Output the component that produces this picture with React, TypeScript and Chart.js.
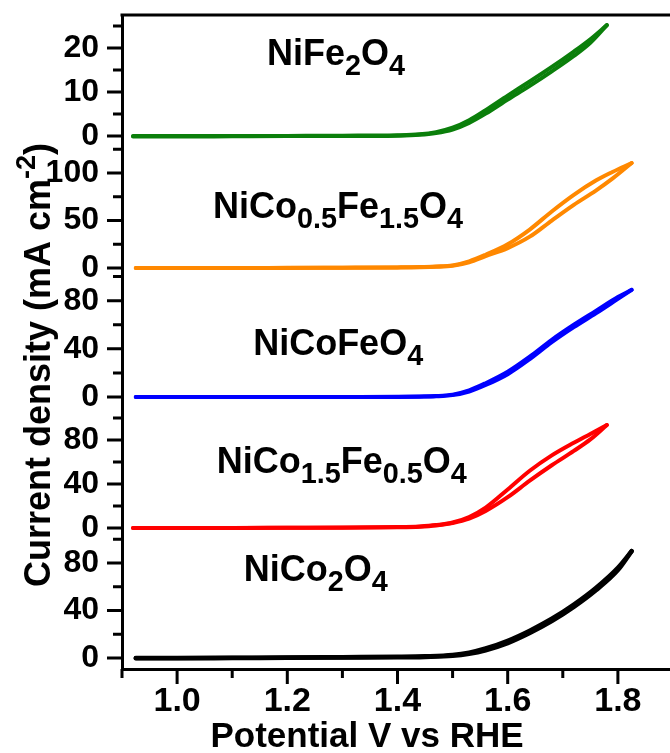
import React, { useEffect, useRef } from 'react';
import { Chart, registerables } from 'chart.js';

Chart.register(...registerables);

// ---------- data ----------
const sampleNames = ['NiFe_{2}O_{4}', 'NiCo_{0.5}Fe_{1.5}O_{4}', 'NiCoFeO_{4}', 'NiCo_{1.5}Fe_{0.5}O_{4}', 'NiCo_{2}O_{4}'];
const sampleColors = ['#0b7f0b', '#ff8800', '#0000ff', '#ff0000', '#000000'];
const sampleLineWidths = [4, 4, 4, 4, 4.5];

// NiFe2O4
const potNiFe2O4 = [0.92, 1.0, 1.1, 1.2, 1.3, 1.4, 1.44, 1.47, 1.5, 1.53, 1.56, 1.6, 1.64, 1.68, 1.72, 1.75, 1.78];
const fwdNiFe2O4 = [0, 0, 0, 0.05, 0.1, 0.2, 0.4, 0.9, 1.9, 3.6, 5.9, 9.2, 12.4, 15.7, 19.2, 22.0, 25.2];
const revNiFe2O4 = [-0.1, -0.1, -0.05, 0, 0, 0.1, 0.3, 0.7, 1.5, 3.0, 5.1, 8.3, 11.4, 14.7, 18.2, 21.2, 25.2];

// NiCo0.5Fe1.5O4
const potNiCo05 = [0.925, 1.0, 1.1, 1.2, 1.3, 1.4, 1.44, 1.47, 1.5, 1.53, 1.56, 1.6, 1.64, 1.68, 1.72, 1.76, 1.79, 1.825];
const fwdNiCo05 = [0, 0, 0, 0.2, 0.4, 0.7, 1.0, 1.6, 2.8, 7.0, 14.0, 25.0, 40.5, 59.5, 77.0, 92.0, 101.0, 110.5];
const revNiCo05 = [0, 0, 0, 0.1, 0.3, 0.5, 0.8, 1.3, 2.4, 6.0, 12.5, 21.0, 33.0, 50.0, 66.5, 81.5, 94.0, 110.5];

// NiCoFeO4
const potNiCoFe = [0.925, 1.0, 1.1, 1.2, 1.3, 1.4, 1.44, 1.47, 1.5, 1.53, 1.56, 1.6, 1.64, 1.68, 1.72, 1.76, 1.8, 1.825];
const fwdNiCoFe = [0, 0, 0, 0, 0.1, 0.2, 0.4, 0.8, 2.0, 5.5, 11.5, 21.0, 33.5, 47.5, 60.0, 71.5, 83.0, 89.0];
const revNiCoFe = [0, 0, 0, 0, 0, 0.1, 0.3, 0.6, 1.6, 4.6, 10.0, 19.0, 31.5, 45.5, 58.0, 69.5, 81.5, 89.0];

// NiCo1.5Fe0.5O4
const potNiCo15 = [0.92, 1.0, 1.1, 1.2, 1.3, 1.4, 1.44, 1.47, 1.5, 1.53, 1.56, 1.6, 1.64, 1.68, 1.72, 1.75, 1.78];
const fwdNiCo15 = [0, 0, 0, 0.2, 0.4, 0.8, 1.4, 2.6, 5.0, 10.0, 18.5, 35.0, 52.0, 66.0, 77.5, 85.5, 93.6];
const revNiCo15 = [0, 0, 0, 0.1, 0.3, 0.6, 1.1, 2.2, 4.5, 8.5, 15.5, 28.0, 43.0, 57.0, 70.0, 80.5, 93.6];

// NiCo2O4
const potNiCo2 = [0.925, 1.0, 1.1, 1.2, 1.3, 1.4, 1.45, 1.5, 1.53, 1.56, 1.6, 1.64, 1.68, 1.72, 1.76, 1.8, 1.825];
const fwdNiCo2 = [0, 0, 0.2, 0.4, 0.7, 1.0, 1.4, 2.5, 4.5, 8.0, 14.5, 23.0, 33.0, 45.0, 59.0, 76.0, 90.0];
const revNiCo2 = [-0.3, -0.3, -0.1, 0.1, 0.3, 0.5, 0.9, 1.8, 3.5, 6.5, 12.5, 21.0, 31.0, 43.0, 57.0, 74.0, 90.0];

const potentials = [potNiFe2O4, potNiCo05, potNiCoFe, potNiCo15, potNiCo2];
const forwardScans = [fwdNiFe2O4, fwdNiCo05, fwdNiCoFe, fwdNiCo15, fwdNiCo2];
const reverseScans = [revNiFe2O4, revNiCo05, revNiCoFe, revNiCo15, revNiCo2];

// axes (panel 0 = top)
const yMin = [-2.2, -9.0, -8.6, -9.3, -9.3];
const yMax = [27.5, 128.6, 100, 109.6, 100.9];
const yMajor = [[0, 10, 20], [0, 50, 100], [0, 40, 80], [0, 40, 80], [0, 40, 80]];
const yMinor = [[5, 15, 25], [25, 75, 125], [20, 60, 100], [20, 60, 100], [20, 60, 100]];
const xMin = 0.9;
const xMax = 1.9;
const xMajor = [1.0, 1.2, 1.4, 1.6, 1.8];
const xMinor = [0.9, 1.1, 1.3, 1.5, 1.7, 1.9];

// sample label anchors (data coordinates of each panel: left edge, baseline)
const labelX = [1.163, 1.065, 1.138, 1.072, 1.121];
const labelY = [16.1, 52.6, 34.9, 50, 64.8];

const xTitle = 'Potential V vs RHE';
const yTitle = 'Current density (mA cm^{-2})';

// ---------- helpers ----------
const FAMILY = '"Liberation Sans", Arial, Helvetica, sans-serif';
const fontOf = (s: number) => `bold ${s}px ${FAMILY}`;

function parseRich(text: string) {
  const parts: { t: string; k: string; w?: number }[] = [];
  const re = /([_^])\{([^}]*)\}/g;
  let last = 0;
  let m: RegExpExecArray | null;
  while ((m = re.exec(text))) {
    if (m.index > last) parts.push({ t: text.slice(last, m.index), k: '' });
    parts.push({ t: m[2], k: m[1] });
    last = re.lastIndex;
  }
  if (last < text.length) parts.push({ t: text.slice(last), k: '' });
  return parts;
}

function drawRich(ctx: CanvasRenderingContext2D, text: string, x: number, y: number, size: number, align: 'left' | 'center', subScale = 0.8) {
  const parts = parseRich(text);
  const sub = size * subScale;
  let w = 0;
  parts.forEach((p) => {
    ctx.font = fontOf(p.k ? sub : size);
    p.w = ctx.measureText(p.t).width;
    w += p.w;
  });
  let cx = align === 'center' ? x - w / 2 : x;
  ctx.textAlign = 'left';
  ctx.textBaseline = 'alphabetic';
  parts.forEach((p) => {
    ctx.font = fontOf(p.k ? sub : size);
    const dy = p.k === '_' ? size * 0.28 : p.k === '^' ? -size * 0.42 : 0;
    ctx.fillText(p.t, cx, y + dy);
    cx += p.w || 0;
  });
}

const decorPlugin = {
  id: 'decor',
  afterDraw(chart: any) {
    const ctx: CanvasRenderingContext2D = chart.ctx;
    const area = chart.chartArea;
    ctx.save();
    ctx.strokeStyle = '#000';
    ctx.fillStyle = '#000';
    ctx.lineWidth = 3;
    ctx.lineCap = 'butt';
    // top frame
    ctx.beginPath();
    ctx.moveTo(area.left - 1.5, area.top);
    ctx.lineTo(area.right, area.top);
    ctx.stroke();
    // y ticks
    ctx.beginPath();
    yMajor.forEach((majors, i) => {
      const sc = chart.scales['p' + i];
      const x0 = area.left;
      const tick = (v: number, len: number) => {
        if (v < sc.min - 1e-6 || v > sc.max + 1e-6) return;
        const y = sc.getPixelForValue(v);
        ctx.moveTo(x0, y);
        ctx.lineTo(x0 - len, y);
      };
      majors.forEach((v) => tick(v, 15));
      yMinor[i].forEach((v) => tick(v, 9));
    });
    // x ticks
    const xs = chart.scales.x;
    const xt = (v: number, len: number) => {
      const x = xs.getPixelForValue(v);
      ctx.moveTo(x, area.bottom);
      ctx.lineTo(x, area.bottom + len);
    };
    xMajor.forEach((v) => xt(v, 15));
    xMinor.forEach((v) => xt(v, 9));
    ctx.stroke();

    // sample labels
    sampleNames.forEach((name, i) => {
      const sc = chart.scales['p' + i];
      drawRich(ctx, name, xs.getPixelForValue(labelX[i]), sc.getPixelForValue(labelY[i]), 36, 'left');
    });

    // x title
    drawRich(ctx, xTitle, area.left + 245, area.bottom + 78, 35, 'center');

    // y title
    ctx.save();
    ctx.translate(area.left - 72, (area.top + area.bottom) / 2 + 23);
    ctx.rotate(-Math.PI / 2);
    drawRich(ctx, yTitle, 0, 0, 36, 'center', 0.75);
    ctx.restore();

    ctx.restore();
  },
};

export default function App() {
  const ref = useRef<HTMLCanvasElement | null>(null);

  useEffect(() => {
    if (!ref.current) return;
    const datasets: any[] = [];
    sampleNames.forEach((name, i) => {
      [forwardScans[i], reverseScans[i]].forEach((scan, k) => {
        datasets.push({
          label: name + (k === 0 ? ' forward' : ' reverse'),
          data: potentials[i].map((p, j) => ({ x: p, y: scan[j] })),
          yAxisID: 'p' + i,
          xAxisID: 'x',
          showLine: true,
          borderColor: sampleColors[i],
          backgroundColor: sampleColors[i],
          borderWidth: sampleLineWidths[i],
          borderCapStyle: 'round',
          pointRadius: 0,
          cubicInterpolationMode: 'monotone',
          fill: false,
        });
      });
    });

    const scales: any = {
      x: {
        type: 'linear',
        position: 'bottom',
        min: xMin,
        max: xMax,
        grid: { display: true, drawOnChartArea: false, drawTicks: false },
        border: { display: true, color: '#000', width: 3 },
        ticks: {
          color: '#000',
          font: { family: FAMILY, size: 34, weight: 'bold' },
          padding: 12,
          maxRotation: 0,
          autoSkip: false,
          callback: (v: any) => Number(v).toFixed(1),
        },
        afterBuildTicks: (s: any) => {
          s.ticks = xMajor.map((v) => ({ value: v }));
        },
        afterFit: (s: any) => {
          s.height = 84;
          s.paddingLeft = 0;
          s.paddingRight = 0;
        },
      },
    };
    // stacked scales are laid out bottom-up, so register the bottom panel first
    for (let i = yMajor.length - 1; i >= 0; i--) {
      const majors = yMajor[i];
      scales['p' + i] = {
        type: 'linear',
        axis: 'y',
        position: 'left',
        stack: 'panels',
        stackWeight: 1,
        min: yMin[i],
        max: yMax[i],
        grid: { display: true, drawOnChartArea: false, drawTicks: false },
        border: { display: true, color: '#000', width: 3 },
        ticks: {
          color: '#000',
          font: { family: FAMILY, size: 32, weight: 'bold' },
          padding: 23,
          autoSkip: false,
          callback: (v: any) => String(v),
        },
        afterBuildTicks: (s: any) => {
          s.ticks = majors.map((v) => ({ value: v }));
        },
        afterFit: (s: any) => {
          s.width = 122;
          s.paddingTop = 0;
          s.paddingBottom = 0;
        },
      };
    }

    const chart = new Chart(ref.current, {
      type: 'scatter',
      data: { datasets } as any,
      options: {
        responsive: false,
        animation: false,
        layout: { padding: { top: 15, right: 7, left: 0, bottom: 0 } },
        plugins: { legend: { display: false }, tooltip: { enabled: false }, title: { display: false } },
        scales,
      } as any,
      plugins: [decorPlugin],
    });
    return () => chart.destroy();
  }, []);

  return (
    <div style={{ position: 'absolute', left: 0, top: 0, width: 670, height: 753, overflow: 'hidden', background: '#fff' }}>
      <canvas ref={ref} width={680} height={753} style={{ display: 'block' }} />
    </div>
  );
}
